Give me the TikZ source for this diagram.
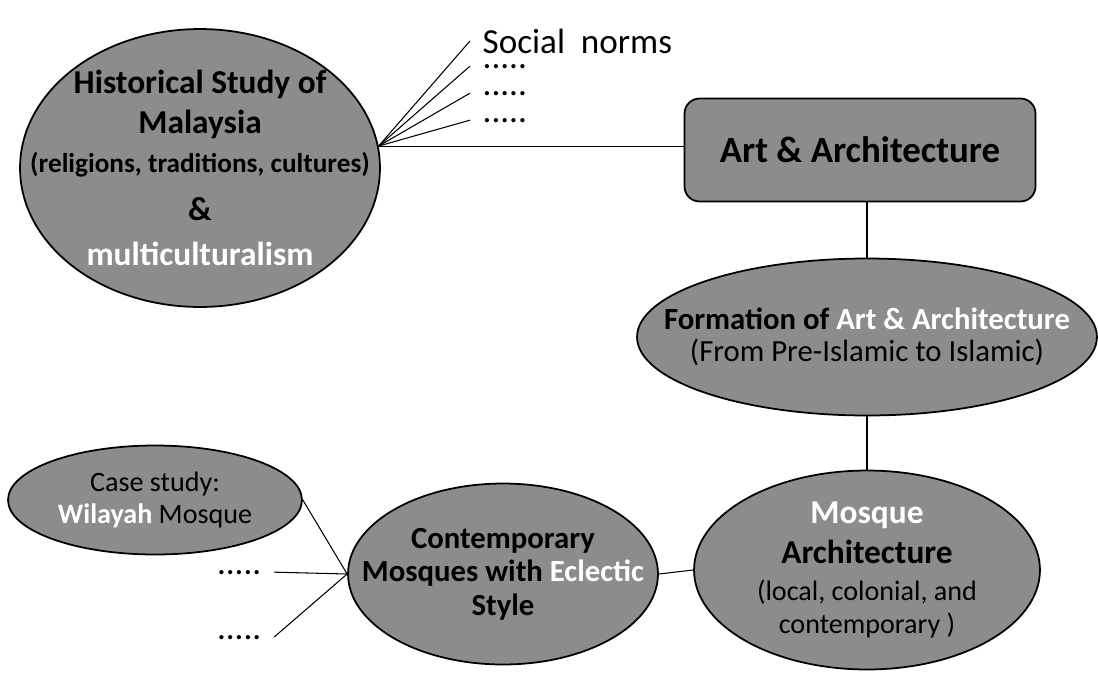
\documentclass[tikz,border=0pt]{standalone}
\usepackage{fontspec}
\setmainfont{Carlito}
\usetikzlibrary{shapes.geometric,positioning}
\newcommand\wtxt[1]{{\color{white}#1}}
\tikzset{
  bubble/.style={ellipse, draw=black, line width=1pt, fill=black!45, inner sep=-3cm, align=center},
  link/.style={line width=0.6pt},
  note/.style={inner ysep=0pt, inner xsep=7pt, font=\fontsize{20}{24}\selectfont},
}

\begin{document}
\begin{tikzpicture}[x=0.02cm,y=-0.02cm]
  \useasboundingbox (0,0) rectangle (1098,673);

  % left column
  \node[bubble, minimum width=7.2cm, minimum height=5.56cm, font=\bfseries\fontsize{19}{22.5}\selectfont] (hist) at (200,168)
    {Historical Study of\\ Malaysia\\ {\fontsize{15.5}{22.5}\selectfont(religions, traditions, cultures)}\\[5pt] \&\\[3pt] \wtxt{multiculturalism}};
  \node[bubble, minimum width=5.88cm, minimum height=2.18cm, font=\fontsize{16}{18.5}\selectfont] (case) at (155,500)
    {Case study:\\ \wtxt{\bfseries Wilayah} Mosque};

  % right column
  \node[draw, line width=1pt, rounded corners=0.3cm, fill=black!45, minimum width=7.02cm, minimum height=2.06cm, font=\bfseries\fontsize{21}{25}\selectfont] (art) at (860,150) {Art \& Architecture};
  \node[bubble, minimum width=9.2cm, minimum height=3.14cm, font=\fontsize{17.5}{18}\selectfont] (form) at (867,337)
    {\textbf{Formation of \wtxt{Art \& Architecture}}\\ (From Pre-Islamic to Islamic)};
  \node[bubble, minimum width=6.92cm, minimum height=3.98cm, font=\fontsize{16}{19}\selectfont] (mosq) at (867,570)
    {{\bfseries\fontsize{19}{23}\selectfont\wtxt{Mosque}}\\[4pt] {\bfseries\fontsize{19}{23}\selectfont Architecture}\\[2pt] (local, colonial, and\\ contemporary )};
  \node[bubble, minimum width=6.2cm, minimum height=3.62cm, font=\bfseries\fontsize{17.5}{19}\selectfont] (cont) at (503,574)
    {Contemporary\\ Mosques with \wtxt{Eclectic}\\ Style};

  % loose notes
  \node[note, anchor=base west] (soc) at (470,53) {Social\ \ norms};
  \node[note, anchor=base west] (d1) at (470,68) {.....};
  \node[note, anchor=base west] (d2) at (470,95) {.....};
  \node[note, anchor=base west] (d3) at (470,122) {.....};
  \node[note, anchor=base east] (d4) at (274,574) {.....};
  \node[note, anchor=base east] (d5) at (274,639) {.....};

  % connectors
  \foreach \n in {soc,d1,d2,d3}
    \draw[link] (hist.7) -- (\n.west);
  \draw[link] (hist.7) -- (hist.7 -| art.west);
  \draw[link] (art.south -| form.north) -- (form.north);
  \draw[link] (form.south) -- (mosq.north);
  \draw[link] (cont.east) -- (mosq.west);
  \foreach \n in {case.east,d4.east,d5.east}
    \draw[link] (\n) -- (cont.west);
\end{tikzpicture}
\end{document}
